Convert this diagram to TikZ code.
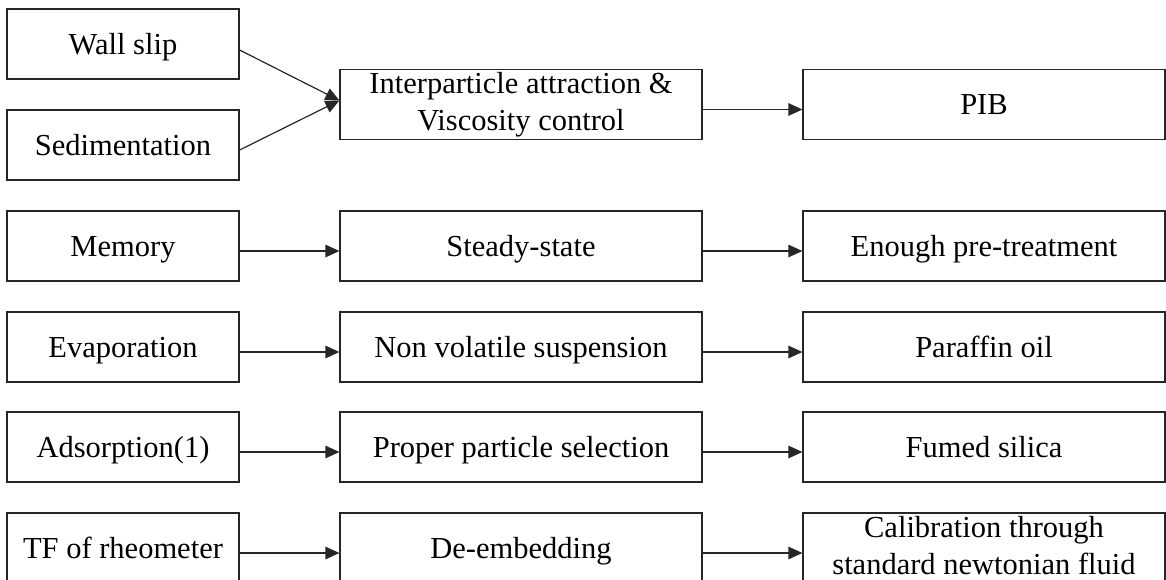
\documentclass[tikz,border=0pt]{standalone}
\usepackage{fontspec}
\setmainfont{Liberation Serif}
\usetikzlibrary{arrows.meta}
\begin{document}
\begin{tikzpicture}[x=1pt,y=-1pt,
  txt/.style={font=\fontsize{30.5}{36.5}\selectfont, align=center},
  box/.style={draw=black!85, line width=1.2pt, rectangle, inner sep=0pt,
    minimum height=70pt, txt},
  one/.style={text height=20pt, text depth=0pt},
  lbox/.style={box, minimum width=232pt},
  wbox/.style={box, minimum width=362pt},
  conn/.style={draw=black!85, line width=1.2pt, -{Triangle[length=14pt,width=12.5pt]}}]
\useasboundingbox (0,0) rectangle (1166,579);
\node[lbox,one] (wall) at (123,44) {Wall slip};
\node[lbox,one] (sed) at (123,145) {Sedimentation};
\node[wbox] (inter) at (521,104.5) {Interparticle attraction \&\\Viscosity control};
\node[wbox,one] (pib) at (984,104.5) {PIB};
\node[lbox,one] (mem) at (123,246) {Memory};
\node[wbox,one] (steady) at (521,246) {Steady-state};
\node[wbox,one] (pre) at (984,246) {Enough pre-treatment};
\node[lbox,one] (evap) at (123,347) {Evaporation};
\node[wbox,one] (nonvol) at (521,347) {Non volatile suspension};
\node[wbox,one] (paraffin) at (984,347) {Paraffin oil};
\node[lbox,one] (ads) at (123,447) {Adsorption(1)};
\node[wbox,one] (proper) at (521,447) {Proper particle selection};
\node[wbox,one] (fumed) at (984,447) {Fumed silica};
\node[lbox,one] (tf) at (123,548) {TF of rheometer};
\node[wbox,one] (deemb) at (521,548) {De-embedding};
\node[wbox, label={[txt, inner sep=0pt, yshift=2.5pt]center:{Calibration through\\standard newtonian fluid}}] (calib) at (984,548) {};
\draw[conn] ([yshift=-6pt]wall.east) -- ([yshift=4pt]inter.west);
\draw[conn] ([yshift=-5pt]sed.east) -- ([yshift=4pt]inter.west);
\foreach \a/\b in {inter/pib, mem/steady, steady/pre, evap/nonvol, nonvol/paraffin, ads/proper, proper/fumed, tf/deemb, deemb/calib}
  \draw[conn] ([yshift=-5pt]\a.east) -- ([yshift=-5pt]\b.west);
\end{tikzpicture}
\end{document}
